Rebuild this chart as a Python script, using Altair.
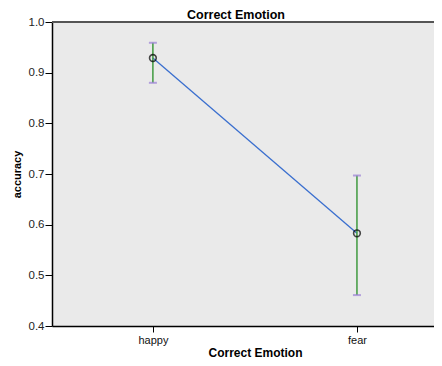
import altair as alt
import pandas as pd

emotions = ["happy", "fear"]
means = [0.929, 0.583]
lower = [0.880, 0.461]
upper = [0.959, 0.697]

df = pd.DataFrame({"emotion": emotions, "mean": means, "lo": lower, "hi": upper})

FONT = "Liberation Sans"

xscale = alt.Scale(type="point", domain=emotions, padding=0.436, align=0.567)
yscale = alt.Scale(domain=[0.4, 1.0], nice=False, zero=False)

x_enc = alt.X(
    "emotion:N", scale=xscale, sort=emotions,
    axis=alt.Axis(
        title="Correct Emotion", titleFont=FONT, titleFontSize=12, titleFontWeight="bold",
        titleColor="#000000", titleX=203, titleY=30, titleBaseline="alphabetic",
        labelFont=FONT, labelFontSize=11, labelColor="#111111", labelAngle=0,
        labelPadding=2, tickSize=6, tickColor="#000000", domainColor="#000000",
        domainWidth=1.5, grid=False,
    ),
)
y_axis = alt.Axis(
    title="accuracy", titleFont=FONT, titleFontSize=11, titleFontWeight="bold",
    titleColor="#000000", titlePadding=6,
    labelFont=FONT, labelFontSize=11.5, labelColor="#222222", format=".1f",
    values=[0.4, 0.5, 0.6, 0.7, 0.8, 0.9, 1.0], labelPadding=1, tickSize=7,
    tickColor="#000000", domainColor="#000000", domainWidth=1.5, grid=False,
)

base = alt.Chart(df)

line = base.mark_line(color="#3a6fcf", strokeWidth=1.3).encode(
    x=x_enc, y=alt.Y("mean:Q", scale=yscale, axis=y_axis)
)
rules = base.mark_rule(color="#3f9a3f", strokeWidth=1.5).encode(
    x=alt.X("emotion:N", scale=xscale, sort=emotions),
    y=alt.Y("lo:Q", scale=yscale),
    y2="hi:Q",
)
cap_hi = base.mark_tick(color="#9a7fd6", size=8, thickness=2, orient="horizontal").encode(
    x=alt.X("emotion:N", scale=xscale, sort=emotions),
    y=alt.Y("hi:Q", scale=yscale),
)
cap_lo = base.mark_tick(color="#9a7fd6", size=8, thickness=2, orient="horizontal").encode(
    x=alt.X("emotion:N", scale=xscale, sort=emotions),
    y=alt.Y("lo:Q", scale=yscale),
)
points = base.mark_point(shape="circle", filled=False, color="#000000", size=45, strokeWidth=1.6).encode(
    x=alt.X("emotion:N", scale=xscale, sort=emotions),
    y=alt.Y("mean:Q", scale=yscale),
)
topline = alt.Chart(pd.DataFrame({"v": [1.0]})).mark_rule(color="#555555", strokeWidth=2).encode(
    y=alt.Y("v:Q", scale=yscale)
)

chart = alt.layer(line, rules, cap_hi, cap_lo, points, topline).properties(
    width=382, height=304,
    title=alt.TitleParams("Correct Emotion", font=FONT, fontSize=12.5, fontWeight="bold",
                          color="#000000", anchor="middle", dx=-7, dy=5, offset=0),
    autosize=alt.AutoSizeParams(type="none"),
    padding={"left": 44, "top": 14, "right": 0, "bottom": 32},
    background="#ffffff",
).configure_view(fill="#eaeaea", stroke=None)

chart.save("out.html", embed_options={"renderer": "svg", "actions": False})
